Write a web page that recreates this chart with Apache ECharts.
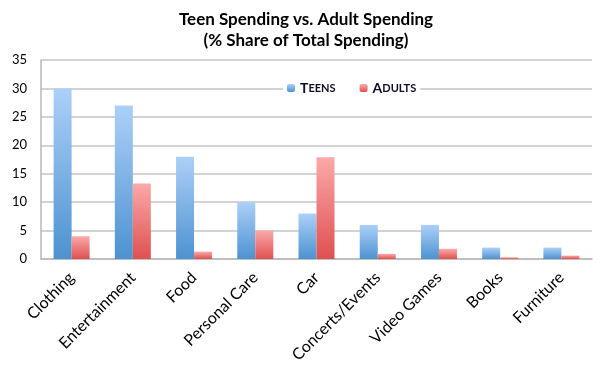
<!DOCTYPE html>
<html><head><meta charset="utf-8">
<script src="https://cdn.jsdelivr.net/npm/echarts@6/dist/echarts.min.js"></script>
<style>html,body{margin:0;padding:0;background:#fff}#c{width:612px;height:368px}</style>
</head><body><div id="c"></div>
<script>
const categories = ["Clothing","Entertainment","Food","Personal Care","Car","Concerts/Events","Video Games","Books","Furniture"];
const teens = [30, 27, 18, 10, 8, 6, 6, 2, 2];
const adults = [4, 13.3, 1.3, 5, 17.9, 0.9, 1.8, 0.3, 0.6];
const yTicks = [0, 5, 10, 15, 20, 25, 30, 35];

const chart = echarts.init(document.getElementById('c'));
const grad = (top, bottom) => new echarts.graphic.LinearGradient(0,0,0,1,[{offset:0,color:top},{offset:1,color:bottom}]);
const font = "Lato, 'Open Sans', sans-serif";
chart.setOption({
  animation:false,
  title:{
    text:"Teen Spending vs. Adult Spending\n(% Share of Total Spending)",
    left:'center', top:4,
    textStyle:{fontFamily:font, fontSize:17, fontWeight:'bold', color:'#000', lineHeight:21}
  },
  legend:{
    top:79, left:283, itemWidth:8, itemHeight:8, itemGap:24,
    backgroundColor:'#fff', padding:[2,4],
    data:['Teens','Adults'],
    formatter: n => '{a|' + n[0] + '}{b|' + n.slice(1).toUpperCase() + '}',
    textStyle:{
      rich:{
        a:{fontFamily:font, fontSize:14, fontWeight:'bold', color:'#0d0d2b'},
        b:{fontFamily:font, fontSize:11, fontWeight:'bold', color:'#0d0d2b'}
      }
    }
  },
  grid:{left:41, right:20, top:60, bottom:109, containLabel:false},
  xAxis:{
    type:'category', data:categories,
    axisLine:{lineStyle:{color:'#b8b8b8', width:1.5}},
    axisTick:{show:false},
    axisLabel:{rotate:45, fontFamily:font, fontSize:16, color:'#000', margin:16, interval:0}
  },
  yAxis:{
    type:'value', min:0, max:35, interval:5,
    axisLine:{show:true, lineStyle:{color:'#b8b8b8', width:1.5}},
    axisTick:{show:false},
    splitLine:{lineStyle:{color:'#c4c4c4', width:1.5}},
    axisLabel:{fontFamily:font, fontSize:13, color:'#000', margin:14,
      formatter: v => yTicks.includes(v) ? String(v) : ''}
  },
  series:[
    {name:'Teens', type:'bar', data:teens, barWidth:18, barGap:'0%',
      itemStyle:{color:grad('#acd0f8','#4d92d0')}},
    {name:'Adults', type:'bar', data:adults, barWidth:18,
      itemStyle:{color:grad('#fba9a9','#df5050')}}
  ]
});
</script></body></html>
